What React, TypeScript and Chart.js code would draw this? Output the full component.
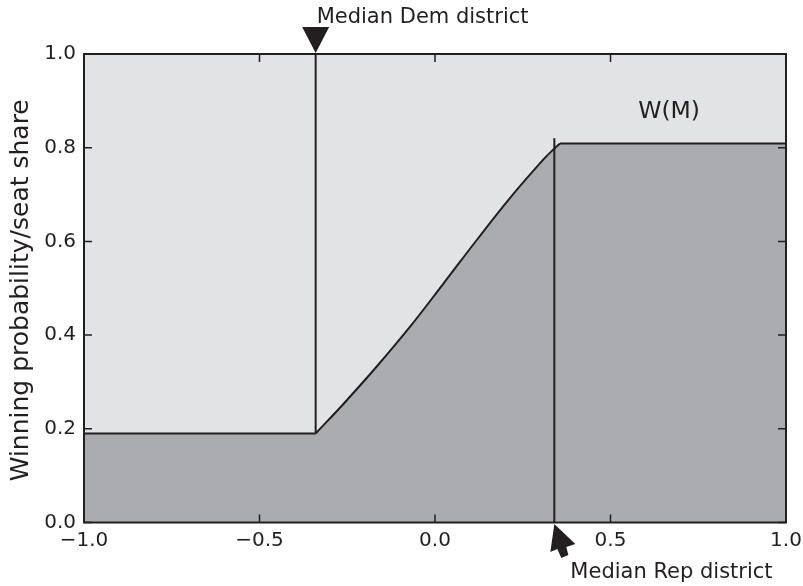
import React, { useEffect, useRef } from "react";
import { Chart, registerables } from "chart.js";

Chart.register(...registerables);

// ---- data ----
const xTicks = [-1.0, -0.5, 0.0, 0.5, 1.0];
const yTicks = [0.0, 0.2, 0.4, 0.6, 0.8, 1.0];
const leftFlatX = [-1.0, -0.34];
const leftFlatY = [0.19, 0.19];
const curveX = [-0.34, -0.261, -0.166, -0.071, 0.024, 0.119, 0.214, 0.309, 0.341, 0.356];
const curveY = [0.19, 0.253, 0.333, 0.418, 0.51, 0.603, 0.693, 0.775, 0.799, 0.809];
const rightFlatX = [0.356, 1.0];
const rightFlatY = [0.809, 0.809];
const demMedian = -0.34;
const demLine = [0.19, 1.0];
const repMedian = 0.34;
const repLine = [0.0, 0.82];
const wLabel = { x: 0.667, y: 0.863, text: "W(M)" };
const demLabel = "Median Dem district";
const repLabel = "Median Rep district";
const yTitle = "Winning probability/seat share";

const LIGHT = "#e2e3e5";
const DARK = "#abacaf";
const INK = "#231f20";
const FONT = "'DejaVu Sans', sans-serif";

const fmt = (v: number) => {
  const s = Number(v).toFixed(1);
  return s.startsWith("-") ? "\u2212" + s.slice(1) : s;
};

const pts = (xs: number[], ys: number[]) => xs.map((x, i) => ({ x, y: ys[i] }));

export default function App() {
  const ref = useRef<HTMLCanvasElement | null>(null);
  useEffect(() => {
    if (!ref.current) return;
    const decor = {
      id: "decor",
      beforeDraw(chart: any) {
        const { ctx, chartArea: a } = chart;
        ctx.save();
        ctx.fillStyle = LIGHT;
        ctx.fillRect(a.left, a.top, a.right - a.left, a.bottom - a.top);
        ctx.restore();
      },
      afterDraw(chart: any) {
        const { ctx, chartArea: a, scales } = chart;
        const xs = scales.x, ys = scales.y;
        ctx.save();
        // frame
        ctx.strokeStyle = INK;
        ctx.lineWidth = 2;
        ctx.strokeRect(a.left, a.top, a.right - a.left, a.bottom - a.top);
        // inward ticks
        ctx.lineWidth = 1.5;
        const tl = 8;
        ctx.beginPath();
        xTicks.forEach((v) => {
          const px = xs.getPixelForValue(v);
          ctx.moveTo(px, a.bottom);
          ctx.lineTo(px, a.bottom - tl);
          ctx.moveTo(px, a.top);
          ctx.lineTo(px, a.top + tl);
        });
        yTicks.forEach((v) => {
          const py = ys.getPixelForValue(v);
          ctx.moveTo(a.left, py);
          ctx.lineTo(a.left + tl, py);
          ctx.moveTo(a.right, py);
          ctx.lineTo(a.right - tl, py);
        });
        ctx.stroke();

        // Dem arrow (down-pointing triangle)
        ctx.fillStyle = INK;
        const dx = xs.getPixelForValue(demMedian);
        const dy = ys.getPixelForValue(1.0) - 1;
        ctx.beginPath();
        ctx.moveTo(dx, dy);
        ctx.lineTo(dx - 13.5, dy - 26);
        ctx.lineTo(dx + 13.5, dy - 26);
        ctx.closePath();
        ctx.fill();

        // Rep arrow (pointing up-left)
        const rx = xs.getPixelForValue(repMedian);
        const ry = ys.getPixelForValue(0.0) + 1.5;
        const shape = [
          [0, 0], [21, 20], [12, 23], [14, 31], [7, 34], [3, 25], [-4, 28],
        ];
        ctx.beginPath();
        shape.forEach(([sx, sy], i) => {
          if (i === 0) ctx.moveTo(rx + sx, ry + sy);
          else ctx.lineTo(rx + sx, ry + sy);
        });
        ctx.closePath();
        ctx.fill();

        // texts
        ctx.fillStyle = INK;
        ctx.textBaseline = "alphabetic";
        ctx.textAlign = "left";
        ctx.font = `21px ${FONT}`;
        ctx.fillText(demLabel, dx + 1, 23);
        ctx.fillText(repLabel, rx + 16, 578);
        ctx.font = `23.5px ${FONT}`;
        ctx.textAlign = "center";
        ctx.fillText(wLabel.text, xs.getPixelForValue(wLabel.x), ys.getPixelForValue(wLabel.y));

        // y title
        ctx.font = `25px ${FONT}`;
        ctx.translate(21, (a.top + a.bottom) / 2 + 2);
        ctx.rotate(-Math.PI / 2);
        ctx.textAlign = "center";
        ctx.textBaseline = "middle";
        ctx.fillText(yTitle, 0, 0);
        ctx.restore();
      },
    };

    const lineDs = (data: any[], extra: any = {}) => ({
      data,
      borderColor: INK,
      borderWidth: 2,
      pointRadius: 0,
      fill: false,
      ...extra,
    });

    const fillData = [
      ...pts(leftFlatX, leftFlatY),
      ...pts(curveX, curveY).slice(1),
      ...pts(rightFlatX, rightFlatY).slice(1),
    ];

    const chart = new Chart(ref.current, {
      type: "line",
      data: {
        datasets: [
          lineDs(pts([demMedian, demMedian], demLine)),
          lineDs(pts([repMedian, repMedian], repLine)),
          lineDs(pts(leftFlatX, leftFlatY)),
          lineDs(pts(curveX, curveY), { tension: 0.4 }),
          lineDs(pts(rightFlatX, rightFlatY)),
          {
            data: fillData,
            borderWidth: 0,
            borderColor: "rgba(0,0,0,0)",
            backgroundColor: DARK,
            pointRadius: 0,
            fill: "origin",
            tension: 0,
          },
        ],
      },
      options: {
        animation: false,
        responsive: false,
        devicePixelRatio: 1,
        layout: { padding: { top: 54, right: 17, left: 0, bottom: 0 } },
        plugins: {
          legend: { display: false },
          tooltip: { enabled: false },
          filler: { drawTime: "beforeDatasetsDraw" },
        },
        scales: {
          x: {
            type: "linear",
            min: -1,
            max: 1,
            grid: { display: false, drawTicks: false },
            border: { display: false },
            afterFit: (s: any) => { s.height = 63.5; s.paddingLeft = 0; s.paddingRight = 0; },
            afterBuildTicks: (s: any) => { s.ticks = xTicks.map((v) => ({ value: v })); },
            ticks: {
              color: INK,
              font: { family: FONT, size: 20 },
              padding: 6,
              maxRotation: 0,
              autoSkip: false,
              callback: (v: any) => fmt(v),
            },
          },
          y: {
            type: "linear",
            min: 0,
            max: 1,
            grid: { display: false, drawTicks: false },
            border: { display: false },
            afterFit: (s: any) => { s.width = 84; s.paddingTop = 0; s.paddingBottom = 0; },
            afterBuildTicks: (s: any) => { s.ticks = yTicks.map((v) => ({ value: v })); },
            ticks: {
              color: INK,
              font: { family: FONT, size: 20 },
              padding: 8,
              autoSkip: false,
              callback: (v: any) => fmt(v),
            },
          },
        },
      } as any,
      plugins: [decor],
    });
    return () => chart.destroy();
  }, []);

  return (
    <div style={{ position: "absolute", left: 0, top: 0, width: 803, height: 586, background: "#fff" }}>
      <canvas ref={ref} width={803} height={586} style={{ width: 803, height: 586, display: "block" }} />
    </div>
  );
}
